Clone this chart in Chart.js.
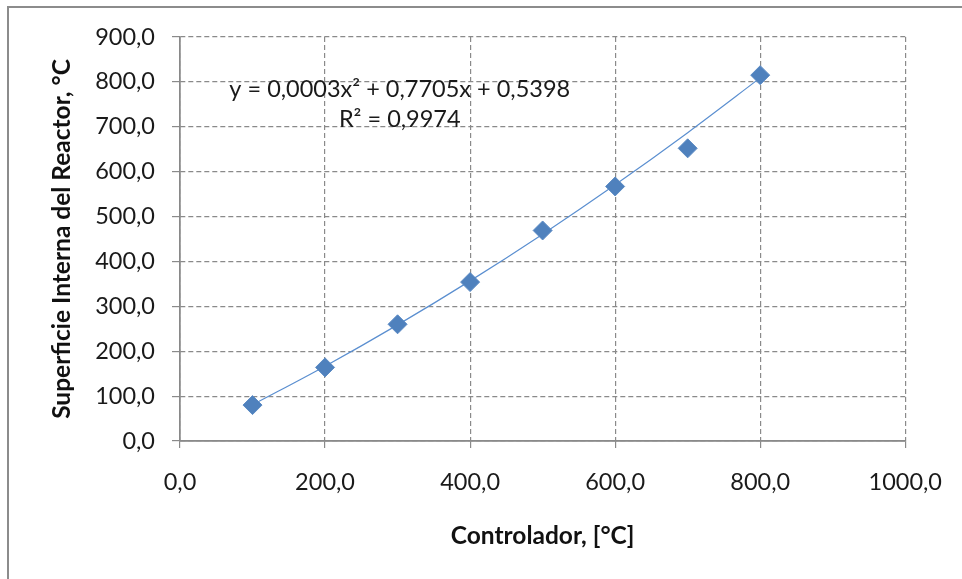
<!DOCTYPE html>
<html>
<head>
<meta charset="utf-8">
<script src="https://cdn.jsdelivr.net/npm/chart.js@4/dist/chart.umd.min.js"></script>
<style>
  html, body { margin: 0; padding: 0; background: #fff; }
  #wrap { position: relative; width: 962px; height: 579px; }
</style>
</head>
<body>
<div id="wrap"><canvas id="c" width="962" height="579"></canvas></div>
<script>
// Data
const controlador = [100, 200, 300, 400, 500, 600, 700, 800];
const superficie = [80, 164, 260, 354, 469, 567, 652, 815];
// Trendline values (polynomial fit shown on chart) at the same x positions
const trendX = [100, 200, 300, 400, 500, 600, 700, 800];
const trendY = [80.6, 166.6, 258.7, 356.7, 460.8, 570.8, 686.9, 808.9];
const xTickLabels = ['0,0', '200,0', '400,0', '600,0', '800,0', '1000,0'];
const yTickLabels = ['0,0', '100,0', '200,0', '300,0', '400,0', '500,0', '600,0', '700,0', '800,0', '900,0'];
const equationLines = ['y = 0,0003x\u00B2 + 0,7705x + 0,5398', 'R\u00B2 = 0,9974'];
const xTitle = 'Controlador, [\u00B0C]';
const yTitle = 'Superficie Interna del Reactor, \u00B0C';

const FONT = 'Lato, "Open Sans", sans-serif';
const GRID = '#8a8a8a';

const framePlugin = {
  id: 'frame',
  beforeDraw(chart) {
    const ctx = chart.ctx;
    ctx.save();
    ctx.fillStyle = '#fff';
    ctx.fillRect(0, 0, chart.width, chart.height);
    ctx.strokeStyle = '#8c8c8c';
    ctx.lineWidth = 2;
    ctx.beginPath();
    ctx.moveTo(8, chart.height);
    ctx.lineTo(8, 7);
    ctx.lineTo(chart.width, 7);
    ctx.stroke();
    ctx.restore();
  }
};

const axisLinePlugin = {
  id: 'axisLines',
  afterDraw(chart) {
    const ctx = chart.ctx;
    const a = chart.chartArea;
    ctx.save();
    ctx.strokeStyle = GRID;
    ctx.lineWidth = 1.3;
    ctx.setLineDash([]);
    ctx.beginPath();
    ctx.moveTo(a.left, a.top);
    ctx.lineTo(a.left, a.bottom);
    ctx.lineTo(a.right, a.bottom);
    ctx.stroke();
    ctx.restore();
  }
};

const equationPlugin = {
  id: 'equation',
  afterDatasetsDraw(chart) {
    const ctx = chart.ctx;
    const xs = chart.scales.x, ys = chart.scales.y;
    const cx = xs.getPixelForValue(303);
    ctx.save();
    ctx.font = '23.5px ' + FONT;
    ctx.fillStyle = '#1a1a1a';
    ctx.textAlign = 'center';
    ctx.textBaseline = 'middle';
    ctx.fillText(equationLines[0], cx, ys.getPixelForValue(783));
    ctx.fillText(equationLines[1], cx, ys.getPixelForValue(716));
    ctx.restore();
  }
};

new Chart(document.getElementById('c'), {
  type: 'scatter',
  data: {
    datasets: [
      {
        label: 'Datos',
        data: controlador.map((x, i) => ({ x: x, y: superficie[i] })),
        pointStyle: 'rectRot',
        pointRadius: 9.5,
        pointHoverRadius: 9.5,
        backgroundColor: '#4f81bd',
        borderColor: '#5a8ac4',
        borderWidth: 1,
        showLine: false
      },
      {
        label: 'Tendencia',
        data: trendX.map((x, i) => ({ x: x, y: trendY[i] })),
        showLine: true,
        pointRadius: 0,
        borderColor: '#5b8fd0',
        borderWidth: 1.2,
        tension: 0.4,
        cubicInterpolationMode: 'monotone',
        fill: false
      }
    ]
  },
  options: {
    responsive: false,
    animation: false,
    devicePixelRatio: 1,
    layout: { padding: { left: 0, top: 37, right: 56, bottom: 0 } },
    plugins: {
      legend: { display: false },
      tooltip: { enabled: false }
    },
    scales: {
      x: {
        type: 'linear',
        min: 0, max: 1000,
        ticks: {
          stepSize: 200,
          padding: 20,
          color: '#1a1a1a',
          font: { family: FONT, size: 23.5 },
          maxRotation: 0,
          callback: (v, i) => xTickLabels[i]
        },
        grid: {
          color: GRID,
          lineWidth: 1.2,
          tickLength: 7,
          tickColor: GRID,
          tickBorderDash: [],
          drawTicks: true
        },
        border: { display: true, color: GRID, width: 1.3, dash: [5, 3] },
        title: {
          display: true,
          text: xTitle,
          color: '#111',
          font: { family: FONT, size: 24.5, weight: 'bold' },
          padding: { top: 0, bottom: 28 }
        },
        afterFit(scale) { scale.height = 138; }
      },
      y: {
        type: 'linear',
        min: 0, max: 900,
        ticks: {
          stepSize: 100,
          padding: 17,
          color: '#1a1a1a',
          font: { family: FONT, size: 23.5 },
          callback: (v, i) => yTickLabels[i]
        },
        grid: {
          color: GRID,
          lineWidth: 1.2,
          tickLength: 8,
          tickColor: GRID,
          tickBorderDash: []
        },
        border: { display: true, color: GRID, width: 1.3, dash: [5, 3] },
        title: {
          display: true,
          text: yTitle,
          color: '#111',
          font: { family: FONT, size: 24.5, weight: 'bold' },
          padding: { top: 47, bottom: 0 }
        },
        afterFit(scale) { scale.width = 180; }
      }
    }
  },
  plugins: [framePlugin, equationPlugin, axisLinePlugin]
});
</script>
</body>
</html>
